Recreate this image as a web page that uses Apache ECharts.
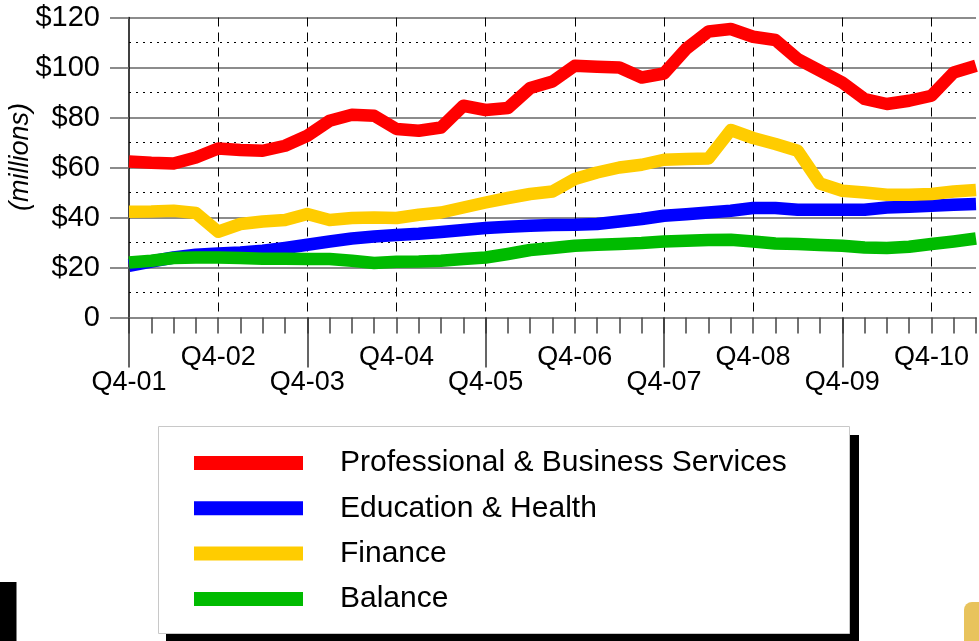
<!DOCTYPE html>
<html>
<head>
<meta charset="utf-8">
<script src="https://cdn.jsdelivr.net/npm/echarts@6/dist/echarts.min.js"></script>
<style>
html,body{margin:0;padding:0;background:#fff;}
#chart{width:979px;height:641px;}
</style>
</head>
<body>
<div id="chart"></div>
<script>
const categories = ['Q4-01',
  'Q1-02','Q2-02','Q3-02','Q4-02',
  'Q1-03','Q2-03','Q3-03','Q4-03',
  'Q1-04','Q2-04','Q3-04','Q4-04',
  'Q1-05','Q2-05','Q3-05','Q4-05',
  'Q1-06','Q2-06','Q3-06','Q4-06',
  'Q1-07','Q2-07','Q3-07','Q4-07',
  'Q1-08','Q2-08','Q3-08','Q4-08',
  'Q1-09','Q2-09','Q3-09','Q4-09',
  'Q1-10','Q2-10','Q3-10','Q4-10',
  'Q1-11','Q2-11'];

const professional = [62.4, 61.9, 61.6, 64.0, 67.6, 67.0, 66.7, 68.7, 72.7, 78.7, 81.1, 80.7, 75.4, 74.7, 76.0, 84.7, 83.0, 83.8, 91.8, 94.4, 100.7, 100.3, 100.0, 96.0, 97.6, 107.5, 114.4, 115.4, 112.3, 111.0, 103.4, 98.7, 94.0, 87.4, 85.4, 86.7, 88.7, 98.0, 100.7];
const education = [20.7, 22.4, 24.0, 25.1, 25.6, 26.0, 26.7, 27.8, 29.1, 30.4, 31.6, 32.4, 33.0, 33.5, 34.2, 35.0, 35.8, 36.3, 36.7, 37.0, 37.1, 37.4, 38.4, 39.4, 40.7, 41.3, 42.0, 42.7, 43.8, 43.8, 43.1, 43.1, 43.1, 43.1, 44.0, 44.3, 44.7, 45.1, 45.4];
const finance = [42.3, 42.4, 42.7, 41.8, 34.3, 37.4, 38.4, 39.0, 41.4, 39.0, 39.8, 40.0, 39.8, 41.1, 42.0, 44.0, 46.0, 47.8, 49.4, 50.4, 55.4, 58.0, 60.0, 61.1, 63.1, 63.4, 63.6, 75.0, 71.8, 69.4, 66.7, 53.6, 50.7, 50.0, 49.1, 49.1, 49.4, 50.4, 51.0];
const balance = [22.0, 22.7, 23.8, 24.0, 24.0, 23.8, 23.5, 23.5, 23.4, 23.4, 22.7, 21.8, 22.3, 22.4, 22.7, 23.4, 24.0, 25.4, 27.0, 27.8, 28.7, 29.1, 29.4, 29.8, 30.4, 30.7, 31.0, 31.1, 30.4, 29.6, 29.4, 29.0, 28.7, 28.0, 27.8, 28.3, 29.4, 30.4, 31.6];

const seriesNames = ['Professional & Business Services', 'Education & Health', 'Finance', 'Balance'];
const seriesColors = ['#FF0000', '#0000FF', '#FFCC00', '#00BB00'];
const seriesData = [professional, education, finance, balance];

const FONT = '"Liberation Sans", Arial, sans-serif';

const chart = echarts.init(document.getElementById('chart'), null, {renderer: 'canvas'});

const option = {
  animation: false,
  backgroundColor: '#ffffff',
  grid: {left: 129, top: 17.5, width: 853, height: 300, containLabel: false},
  xAxis: [{
    type: 'category',
    data: categories,
    boundaryGap: false,
    position: 'bottom',
    axisLine: {show: true, lineStyle: {color: '#888', width: 2}},
    axisTick: {show: true, interval: 0, length: 16, lineStyle: {color: '#444', width: 1.5}},
    axisLabel: {
      interval: 0,
      margin: 28,
      color: '#000',
      fontFamily: FONT,
      fontSize: 27,
      lineHeight: 25,
      formatter: function (v) {
        if (v.indexOf('Q4') !== 0) return '';
        const yr = parseInt(v.slice(3), 10);
        return (yr % 2 === 1) ? '\n' + v : v;
      }
    },
    splitLine: {
      show: true,
      interval: function (i) { return i % 4 === 0 && i !== 0; },
      lineStyle: {color: '#000', width: 1, type: [9, 6]}
    }
  }, {
    type: 'category',
    data: categories,
    boundaryGap: false,
    position: 'bottom',
    axisLine: {show: false},
    axisLabel: {show: false},
    splitLine: {show: false},
    axisTick: {
      show: true,
      interval: function (i) { return i % 8 === 0; },
      length: 50,
      lineStyle: {color: '#333', width: 1.5}
    }
  }],
  yAxis: {
    type: 'value',
    min: 0, max: 120, interval: 20,
    axisLine: {show: true, lineStyle: {color: '#000', width: 1.5}},
    axisTick: {show: true, length: 19, lineStyle: {color: '#666', width: 1.5}},
    axisLabel: {
      margin: 29,
      color: '#000',
      fontFamily: FONT,
      fontSize: 29,
      formatter: function (v) { return v === 0 ? '0' : '$' + v; }
    },
    splitLine: {show: true, lineStyle: {color: '#666', width: 1.5}},
    minorTick: {show: false, splitNumber: 2},
    minorSplitLine: {show: true, lineStyle: {color: '#000', width: 1, type: [2, 5]}}
  },
  legend: {
    show: true,
    orient: 'vertical',
    left: 194,
    top: 448,
    z: 10,
    padding: 0,
    icon: 'rect',
    itemWidth: 109,
    itemHeight: 14,
    itemGap: 15.3,
    selectedMode: false,
    data: seriesNames,
    textStyle: {color: '#000', fontFamily: FONT, fontSize: 30, lineHeight: 30, padding: [0, 0, 0, 32]}
  },
  graphic: [
    {type: 'rect', z: 0, shape: {x: 166, y: 435, width: 693, height: 215}, style: {fill: '#000'}},
    {type: 'rect', z: 1, shape: {x: 158.5, y: 426.5, width: 691, height: 207}, style: {fill: '#fff', stroke: '#c8c8c8', lineWidth: 1}},
    {type: 'text', z: 2, x: 20, y: 157, rotation: Math.PI / 2,
      style: {text: '(millions)', font: 'italic 27px ' + FONT, align: 'center', verticalAlign: 'middle', fill: '#000'}},
    {type: 'rect', z: 1, shape: {x: 0, y: 582, width: 16.5, height: 60}, style: {fill: '#000'}},
    {type: 'rect', z: 1, shape: {x: 964, y: 602, width: 30, height: 50, r: 8}, style: {fill: '#E8C35C'}}
  ],
  series: seriesData.map(function (d, k) {
    return {
      name: seriesNames[k],
      type: 'line',
      data: d,
      xAxisIndex: 0,
      symbol: 'none',
      smooth: false,
      color: seriesColors[k],
      itemStyle: {color: seriesColors[k]},
      lineStyle: {color: seriesColors[k], width: 12.5, join: 'round'},
      z: 3 + k
    };
  })
};

chart.setOption(option);
</script>
</body>
</html>
